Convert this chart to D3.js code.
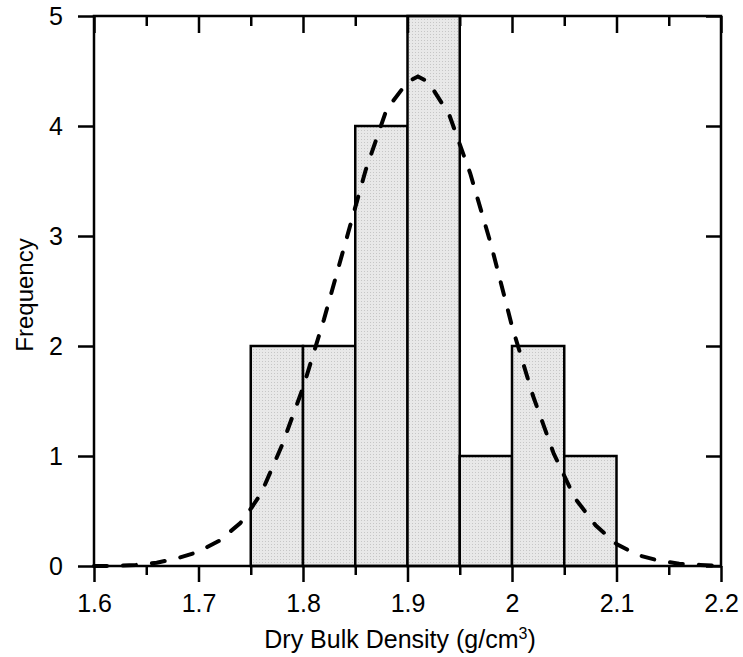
<!DOCTYPE html>
<html>
<head>
<meta charset="utf-8">
<script src="https://cdn.jsdelivr.net/npm/d3@7/dist/d3.min.js"></script>
<style>
  html, body { margin: 0; padding: 0; background: #fff; }
  svg { display: block; }
  text { font-family: "Liberation Sans", Arial, sans-serif; fill: #000; }
</style>
</head>
<body>
<svg id="chart" width="743" height="657"></svg>
<script>
// ---- data ----
const binStarts = [1.75, 1.80, 1.85, 1.90, 1.95, 2.00, 2.05];
const binEnds   = [1.80, 1.85, 1.90, 1.95, 2.00, 2.05, 2.10];
const counts    = [2, 2, 4, 5, 1, 2, 1];

const curveX = [1.60, 1.62, 1.64, 1.66, 1.68, 1.70, 1.72, 1.74, 1.75, 1.76, 1.78, 1.80, 1.82, 1.84, 1.86, 1.88, 1.90, 1.91, 1.92, 1.94, 1.96, 1.98, 2.00, 2.02, 2.04, 2.06, 2.08, 2.10, 2.12, 2.14, 2.16, 2.18, 2.20];
const curveY = [0.00, 0.00, 0.01, 0.03, 0.07, 0.13, 0.23, 0.39, 0.52, 0.66, 1.10, 1.62, 2.24, 2.92, 3.60, 4.15, 4.40, 4.45, 4.40, 4.10, 3.57, 2.92, 2.18, 1.55, 1.02, 0.62, 0.37, 0.20, 0.10, 0.05, 0.02, 0.01, 0.00];

const xMajorTicks = [1.6, 1.7, 1.8, 1.9, 2.0, 2.1, 2.2];
const xMinorTicks = [1.65, 1.75, 1.85, 1.95, 2.05, 2.15];
const xTickLabels = ["1.6", "1.7", "1.8", "1.9", "2", "2.1", "2.2"];
const yTicks = [0, 1, 2, 3, 4, 5];

// ---- layout ----
const L = 94, R = 721, T = 16, B = 566;
const svg = d3.select("#chart");

const defs = svg.append("defs");
const pat = defs.append("pattern").attr("id", "dots")
  .attr("patternUnits", "userSpaceOnUse").attr("width", 3).attr("height", 3);
pat.append("rect").attr("width", 3).attr("height", 3).attr("fill", "#e8e8e8");
pat.append("rect").attr("x", 1).attr("y", 1).attr("width", 1).attr("height", 1).attr("fill", "#c6c6c6");

const x = d3.scaleLinear().domain([1.6, 2.2]).range([L, R]);
const y = d3.scaleLinear().domain([0, 5]).range([B, T]);

// bars
svg.append("g").selectAll("rect").data(counts).join("rect")
  .attr("x", (d, i) => x(binStarts[i]))
  .attr("width", (d, i) => x(binEnds[i]) - x(binStarts[i]))
  .attr("y", d => y(d))
  .attr("height", d => y(0) - y(d))
  .attr("fill", "url(#dots)")
  .attr("stroke", "#000")
  .attr("stroke-width", 2.5);

// axes
function styleAxis(g) {
  g.select(".domain").remove();
  g.selectAll(".tick line").attr("stroke", "#000").attr("stroke-width", 2.5);
  g.selectAll("text").style("font-size", "25px").attr("fill", "#000");
}

svg.append("g").attr("transform", `translate(0,${B})`)
  .call(d3.axisBottom(x).tickValues(xMajorTicks).tickSize(16).tickPadding(12)
    .tickFormat((d, i) => xTickLabels[i]))
  .call(styleAxis)
  .selectAll("text").attr("dy", "0.71em");

svg.append("g").attr("transform", `translate(0,${B})`)
  .call(d3.axisBottom(x).tickValues(xMinorTicks).tickSize(9).tickFormat(""))
  .call(styleAxis);

svg.append("g").attr("transform", `translate(0,${T})`)
  .call(d3.axisTop(x).tickValues(xMajorTicks).tickSize(-17).tickFormat(""))
  .call(styleAxis);
svg.append("g").attr("transform", `translate(0,${T})`)
  .call(d3.axisTop(x).tickValues(xMinorTicks).tickSize(-10).tickFormat(""))
  .call(styleAxis);

svg.append("g").attr("transform", `translate(${L},0)`)
  .call(d3.axisLeft(y).tickValues(yTicks).tickSize(16).tickPadding(15).tickFormat(d3.format("d")))
  .call(styleAxis);

svg.append("g").attr("transform", `translate(${R},0)`)
  .call(d3.axisRight(y).tickValues(yTicks).tickSize(-15).tickFormat(""))
  .call(styleAxis);

// frame
svg.append("rect")
  .attr("x", L).attr("y", T).attr("width", R - L).attr("height", B - T)
  .attr("fill", "none").attr("stroke", "#000").attr("stroke-width", 2.5);

// curve
const line = d3.line().x((d, i) => x(curveX[i])).y(d => y(d));
svg.append("path").datum(curveY)
  .attr("d", line)
  .attr("fill", "none")
  .attr("stroke", "#000")
  .attr("stroke-width", 4)
  .attr("stroke-linecap", "round")
  .attr("stroke-dasharray", "13,16");

// titles
const xt = svg.append("text")
  .attr("x", 400).attr("y", 648)
  .attr("text-anchor", "middle")
  .style("font-size", "25px");
xt.append("tspan").text("Dry Bulk Density (g/cm");
xt.append("tspan").attr("dy", -9).style("font-size", "16px").text("3");
xt.append("tspan").attr("dy", 9).text(")");

svg.append("text")
  .attr("transform", `translate(33,${(T + B) / 2 + 4}) rotate(-90)`)
  .attr("text-anchor", "middle")
  .style("font-size", "24px")
  .text("Frequency");
</script>
</body>
</html>
